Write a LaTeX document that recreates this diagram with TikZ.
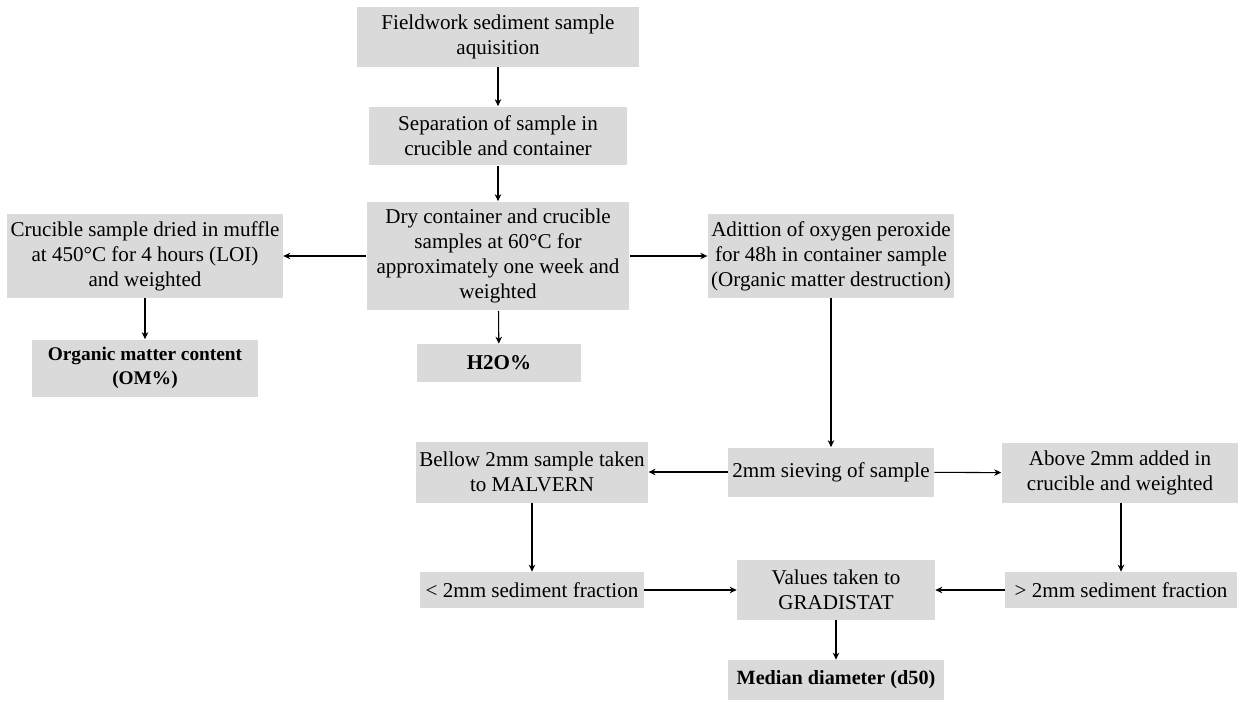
\documentclass[tikz,border=0pt]{standalone}
\usepackage{fontspec}
\setmainfont{Liberation Serif}
\usetikzlibrary{arrows.meta,positioning}
\definecolor{boxgray}{RGB}{218,218,218}
\tikzset{
  flow box/.style={
    rectangle, fill=boxgray, draw=none, align=center,
    inner sep=2pt, font=\fontsize{12}{14.2}\selectfont
  },
  result box/.style={flow box, font=\fontsize{12}{14.2}\selectfont\bfseries},
  flow arrow/.style={-{Stealth[length=1.4mm,width=1.3mm]}, line width=0.6pt, black}
}

\begin{document}
\begin{tikzpicture}[x=0.02cm, y=-0.02cm]
    \useasboundingbox (0,0) rectangle (1240,700);
    % main column
    \node[flow box, minimum width=5.64cm, minimum height=1.2cm] (field) at (498,37) {Fieldwork sediment sample\\aquisition};
    \node[flow box, minimum width=5.16cm, minimum height=1.18cm] (separation) at (498,136) {Separation of sample in\\crucible and container};
    \node[flow box, minimum width=5.26cm, minimum height=2.18cm] (dry) at (498,256) {Dry container and crucible\\samples at 60°C for\\approximately one week and\\weighted};
    \node[result box, minimum width=3.28cm, minimum height=0.76cm] (water) at (499,363) {H2O\%};
    % left branch
    \node[flow box, minimum width=5.42cm, minimum height=1.68cm] (crucible) at (145,256) {Crucible sample dried in muffle\\at 450°C for 4 hours (LOI)\\and weighted};
    \node[result box, minimum width=4.54cm, minimum height=1.14cm, font=\fontsize{11}{14}\selectfont\bfseries] (organic) at (145,368) {Organic matter content\\(OM\%)};
    % right branch
    \node[flow box, minimum width=4.92cm, minimum height=1.68cm] (peroxide) at (831,256) {Adittion of oxygen peroxide\\for 48h in container sample\\(Organic matter destruction)};
    \node[flow box, minimum width=4.12cm, minimum height=0.98cm] (sieving) at (831,472) {2mm sieving of sample};
    \node[flow box, minimum width=4.64cm, minimum height=1.22cm] (below) at (532,472) {Bellow 2mm sample taken\\to MALVERN};
    \node[flow box, minimum width=4.74cm, minimum height=1.2cm] (above) at (1120,473) {Above 2mm added in\\crucible and weighted};
    \node[flow box, minimum width=4.48cm, minimum height=0.72cm] (fine) at (532,590) {< 2mm sediment fraction};
    \node[flow box, minimum width=3.96cm, minimum height=1.2cm] (gradistat) at (836,590) {Values taken to\\GRADISTAT};
    \node[flow box, minimum width=4.64cm, minimum height=0.72cm] (coarse) at (1121,590) {> 2mm sediment fraction};
    \node[result box, minimum width=4.34cm, minimum height=0.8cm, font=\fontsize{11.5}{14}\selectfont\bfseries] (median) at (836,680) {Median diameter (d50)};

    \draw[flow arrow] (field) -- (separation);
    \draw[flow arrow] (separation) -- (dry);
    \draw[flow arrow] (dry) -- (water);
    \draw[flow arrow] (dry) -- (crucible);
    \draw[flow arrow] (crucible) -- (organic);
    \draw[flow arrow] (dry) -- (peroxide);
    \draw[flow arrow] (peroxide) -- (sieving);
    \draw[flow arrow] (sieving) -- (below);
    \draw[flow arrow] (sieving) -- (above);
    \draw[flow arrow] (below) -- (fine);
    \draw[flow arrow] (above.south -| coarse) -- (coarse);
    \draw[flow arrow] (fine) -- (gradistat);
    \draw[flow arrow] (coarse) -- (gradistat);
    \draw[flow arrow] (gradistat) -- (median);
  \end{tikzpicture}
\end{document}
